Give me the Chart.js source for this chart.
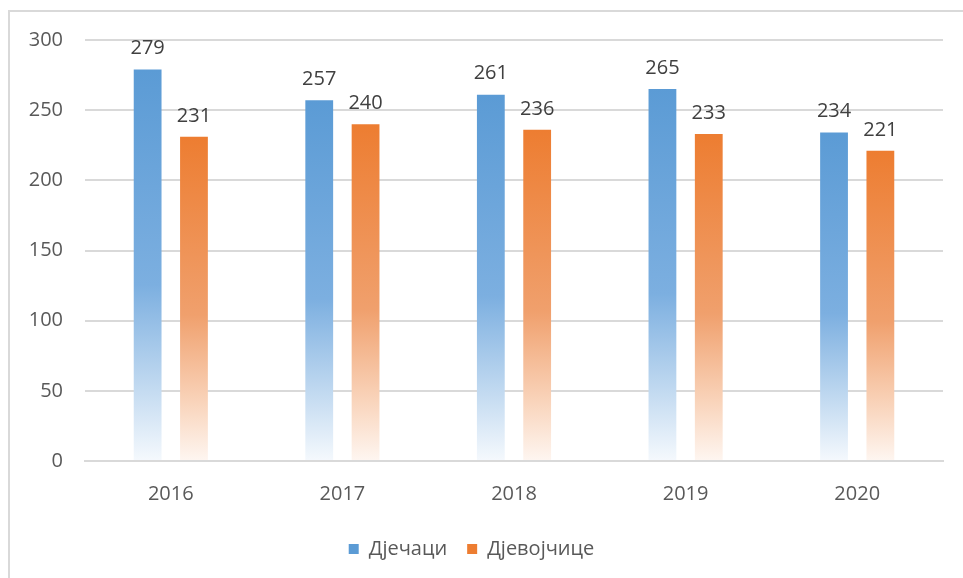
<!DOCTYPE html>
<html>
<head>
<meta charset="utf-8">
<script src="https://cdn.jsdelivr.net/npm/chart.js@4.4.1/dist/chart.umd.min.js"></script>
<style>
    html, body { margin: 0; padding: 0; background: #fff; }
    #wrap { position: relative; width: 963px; height: 578px; overflow: hidden; }
    #frame { position: absolute; left: 8px; top: 10px; width: 1000px; height: 600px;
             border-left: 2px solid #d9d9d9; border-top: 2px solid #d9d9d9; }
    #salesChart { position: absolute; left: 0; top: 0; }
</style>
</head>
<body>
<div id="wrap">
    <div id="frame"></div>
    <canvas id="salesChart" width="963" height="578"></canvas>
</div>
<script>
const years = ["2016", "2017", "2018", "2019", "2020"];
const boys = [279, 257, 261, 265, 234];
const girls = [231, 240, 236, 233, 221];
const yTicks = [0, 50, 100, 150, 200, 250, 300];

const FONT = "'Open Sans', 'Liberation Sans', Arial, sans-serif";
const BLUE = ["#5b9bd5", "#7cafe0", "#c4dbf1", "#f5f9fd"];
const ORANGE = ["#ed7d31", "#f0a06d", "#f9d4bb", "#fef6f1"];

// vertical gradient for each bar, solid at the top and fading to white at the base
function barFill(stops) {
    return function (ctx) {
        const chart = ctx.chart;
        const y = chart.scales.y;
        if (!chart.chartArea || !y || ctx.type !== "data" || ctx.parsed == null) return stops[0];
        const y0 = y.getPixelForValue(ctx.parsed.y);
        const y1 = y.getPixelForValue(0);
        if (!isFinite(y0) || !isFinite(y1) || y0 === y1) return stops[0];
        const g = chart.ctx.createLinearGradient(0, y0, 0, y1);
        g.addColorStop(0, stops[0]);
        g.addColorStop(0.55, stops[1]);
        g.addColorStop(0.82, stops[2]);
        g.addColorStop(1, stops[3]);
        return g;
    };
}

// value labels above the bars
const valueLabels = {
    id: "valueLabels",
    afterDatasetsDraw(chart) {
        const c = chart.ctx;
        c.save();
        c.font = "20px " + FONT;
        c.fillStyle = "#404040";
        c.textAlign = "center";
        c.textBaseline = "bottom";
        chart.data.datasets.forEach(function (ds, i) {
            chart.getDatasetMeta(i).data.forEach(function (bar, j) {
                c.fillText(ds.data[j], bar.x, bar.y - 11);
            });
        });
        c.restore();
    }
};

const salesChart = document.getElementById("salesChart");

new Chart(salesChart, {
    type: "bar",
    data: {
        labels: years,
        datasets: [{
            label: "Дјечаци",
            data: boys,
            backgroundColor: barFill(BLUE),
            categoryPercentage: 0.54,
            barPercentage: 0.6
        }, {
            label: "Дјевојчице",
            data: girls,
            backgroundColor: barFill(ORANGE),
            categoryPercentage: 0.54,
            barPercentage: 0.6
        }]
    },
    options: {
        responsive: false,
        animation: false,
        layout: { padding: { top: 40, right: 20, bottom: 9, left: 0 } },
        plugins: {
            tooltip: { enabled: false },
            legend: {
                position: "bottom",
                labels: {
                    boxWidth: 10,
                    boxHeight: 10,
                    padding: 20,
                    color: "#595959",
                    font: { family: FONT, size: 20 },
                    generateLabels(chart) {
                        const solid = [BLUE[0], ORANGE[0]];
                        return chart.data.datasets.map(function (ds, i) {
                            return {
                                text: ds.label,
                                fillStyle: solid[i],
                                strokeStyle: solid[i],
                                lineWidth: 0,
                                fontColor: "#595959",
                                datasetIndex: i
                            };
                        });
                    }
                }
            }
        },
        scales: {
            x: {
                grid: { display: false },
                border: { color: "#d9d9d9", width: 2 },
                ticks: { color: "#595959", padding: 13, font: { family: FONT, size: 20 } },
                afterFit(scale) { scale.height = 58; }
            },
            y: {
                min: 0,
                max: 300,
                afterBuildTicks(scale) { scale.ticks = yTicks.map(v => ({ value: v })); },
                grid: { color: "#d9d9d9", lineWidth: 2, drawTicks: false },
                border: { display: false },
                ticks: { color: "#595959", padding: 22, font: { family: FONT, size: 20 } },
                afterFit(scale) { scale.width = 85; }
            }
        }
    },
    plugins: [valueLabels]
});
</script>
</body>
</html>
